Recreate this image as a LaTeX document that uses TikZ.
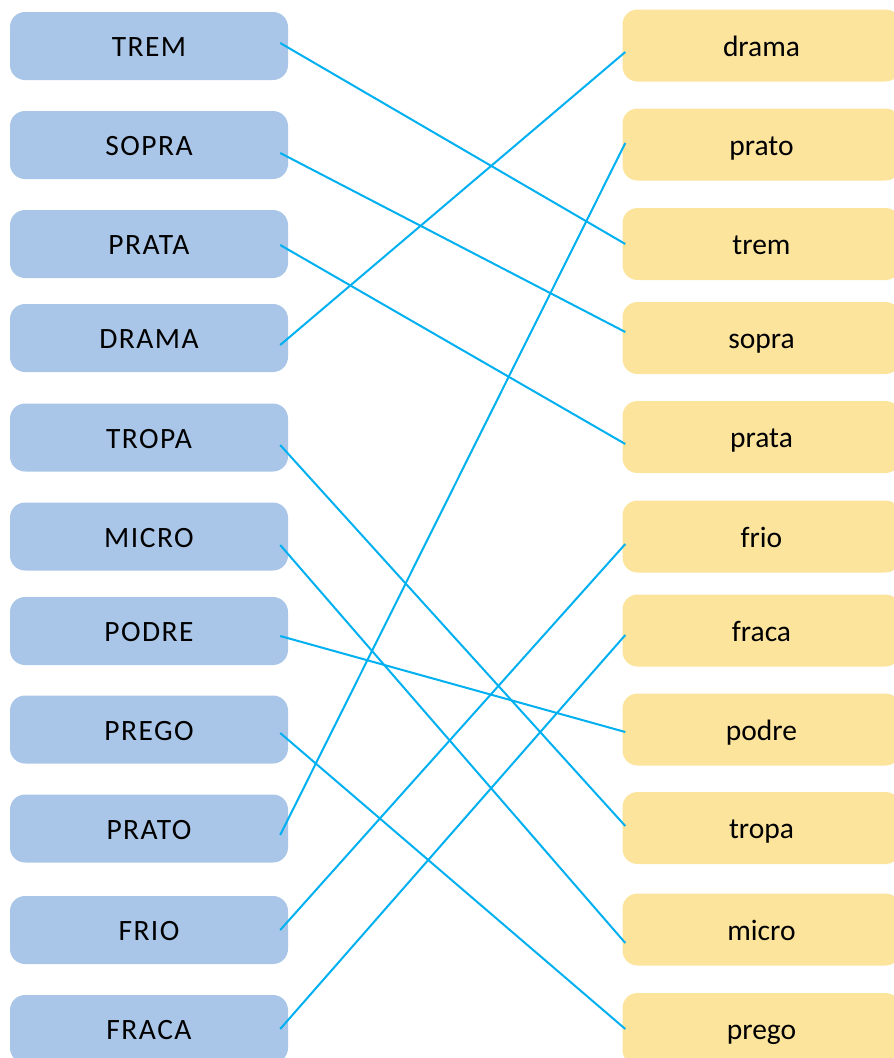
\documentclass[tikz,border=0pt]{standalone}
\usepackage{fontspec}
\setmainfont{Carlito}
\newfontfamily\capsfont[LetterSpace=5]{Carlito}
\definecolor{boxblue}{HTML}{A9C6E8}
\definecolor{boxgold}{HTML}{FDE49D}
\definecolor{linkblue}{HTML}{00B0F0}
\tikzset{
  wordup/.style={fill=boxblue, rounded corners=15pt, minimum width=278pt,
    minimum height=68pt, inner sep=0pt, text height=21pt, text depth=0pt,
    font=\capsfont\fontsize{29.5}{34}\selectfont},
  wordlow/.style={fill=boxgold, rounded corners=15pt, minimum width=278pt,
    minimum height=72pt, inner sep=0pt, text height=21pt, text depth=0pt,
    font=\fontsize{29.5}{34}\selectfont},
  link/.style={draw=linkblue, line width=2pt}
}
\begin{document}
\begin{tikzpicture}[x=1pt,y=-1pt]
\useasboundingbox (0,0) rectangle (894,1058);
\node[wordup] (L-trem) at (149,46) {TREM};
\node[wordup] (L-sopra) at (149,145) {SOPRA};
\node[wordup] (L-prata) at (149,244) {PRATA};
\node[wordup] (L-drama) at (149,338) {DRAMA};
\node[wordup] (L-tropa) at (149,437.5) {TROPA};
\node[wordup] (L-micro) at (149,536.5) {MICRO};
\node[wordup] (L-podre) at (149,631) {PODRE};
\node[wordup] (L-prego) at (149,729.5) {PREGO};
\node[wordup] (L-prato) at (149,828.5) {PRATO};
\node[wordup] (L-frio) at (149,930) {FRIO};
\node[wordup] (L-fraca) at (149,1029) {FRACA};
\node[wordlow] (R-drama) at (761.5,45.5) {drama};
\node[wordlow] (R-prato) at (761.5,144.5) {prato};
\node[wordlow] (R-trem) at (761.5,244) {trem};
\node[wordlow] (R-sopra) at (761.5,338) {sopra};
\node[wordlow] (R-prata) at (761.5,437) {prata};
\node[wordlow] (R-frio) at (761.5,536.5) {frio};
\node[wordlow] (R-fraca) at (761.5,630.5) {fraca};
\node[wordlow] (R-podre) at (761.5,729.5) {podre};
\node[wordlow] (R-tropa) at (761.5,828) {tropa};
\node[wordlow] (R-micro) at (761.5,929.5) {micro};
\node[wordlow] (R-prego) at (761.5,1029) {prego};
\draw[link] ([xshift=-8pt,yshift=3pt]L-trem.east) -- ([xshift=3pt]R-trem.west);
\draw[link] ([xshift=-8pt,yshift=-8pt]L-sopra.east) -- ([xshift=3pt,yshift=6pt]R-sopra.west);
\draw[link] ([xshift=-8pt,yshift=-1pt]L-prata.east) -- ([xshift=3pt,yshift=-7pt]R-prata.west);
\draw[link] ([xshift=-8pt,yshift=-7pt]L-drama.east) -- ([xshift=3pt,yshift=-6.5pt]R-drama.west);
\draw[link] ([xshift=-8pt,yshift=-7.5pt]L-tropa.east) -- ([xshift=3pt,yshift=2pt]R-tropa.west);
\draw[link] ([xshift=-8pt,yshift=-8.5pt]L-micro.east) -- ([xshift=3pt,yshift=-13.5pt]R-micro.west);
\draw[link] ([xshift=-8pt,yshift=-5pt]L-podre.east) -- ([xshift=3pt,yshift=-2.5pt]R-podre.west);
\draw[link] ([xshift=-8pt,yshift=-3.5pt]L-prego.east) -- ([xshift=3pt]R-prego.west);
\draw[link] ([xshift=-8pt,yshift=-6.5pt]L-prato.east) -- ([xshift=3pt,yshift=1.5pt]R-prato.west);
\draw[link] ([xshift=-8pt]L-frio.east) -- ([xshift=3pt,yshift=-7.5pt]R-frio.west);
\draw[link] ([xshift=-8pt]L-fraca.east) -- ([xshift=3pt,yshift=-4.5pt]R-fraca.west);
\end{tikzpicture}
\end{document}
